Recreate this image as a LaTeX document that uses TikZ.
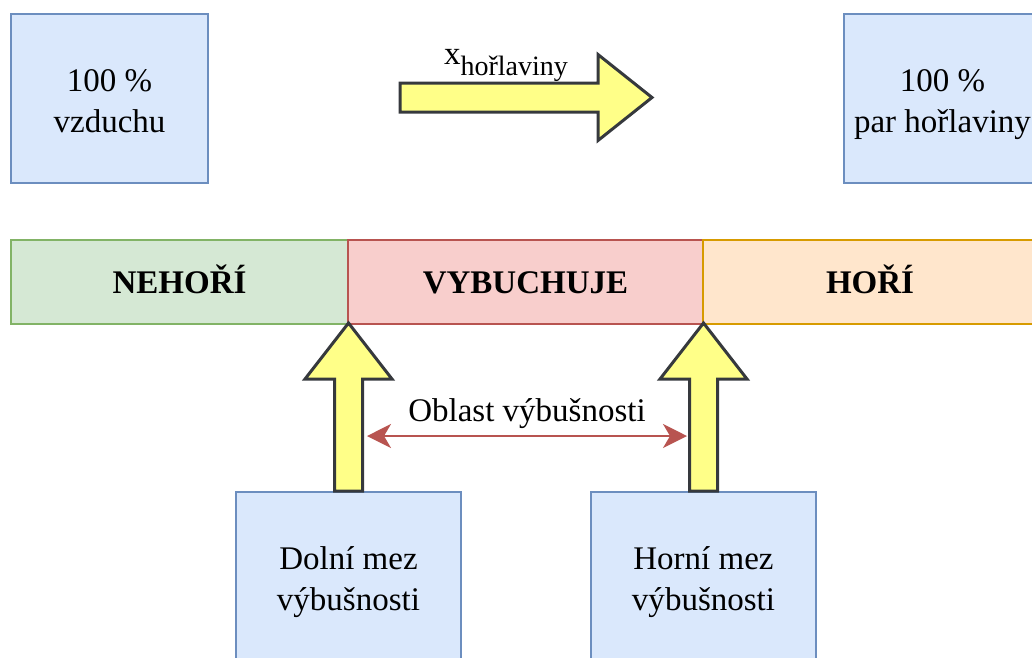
\documentclass[tikz,border=0pt]{standalone}
\usepackage{fontspec}
\setmainfont{Liberation Serif}
\usetikzlibrary{arrows.meta}

\definecolor{boxfill}{HTML}{DAE8FC}
\definecolor{boxline}{HTML}{6C8EBF}
\definecolor{greenfill}{HTML}{D5E8D4}
\definecolor{greenline}{HTML}{82B366}
\definecolor{redfill}{HTML}{F8CECC}
\definecolor{redline}{HTML}{B85450}
\definecolor{orangefill}{HTML}{FFE6CC}
\definecolor{orangeline}{HTML}{D79B00}
\definecolor{arrowfill}{HTML}{FFFF88}
\definecolor{arrowline}{HTML}{36393D}

% two lines of a box, pushed a bit down
\newcommand{\twolines}[2]{\rule{0pt}{39pt}#1\\#2\strut}

\tikzset{
	txt/.style={font=\fontsize{33}{41}\selectfont, align=center},
	box/.style={txt, draw=boxline, fill=boxfill, line width=2pt, minimum width=197pt, minimum height=169pt, inner sep=0pt},
	band/.style={txt, font=\fontsize{33}{40}\selectfont\bfseries, line width=2pt, minimum height=84pt, inner sep=0pt, text height=23pt, text depth=0pt},
	blockarrow/.style={draw=arrowline, fill=arrowfill, line width=3pt, line join=miter},
	rangearrow/.style={draw=redline, line width=2pt, {Stealth[length=24pt, width=24pt, inset=7pt]}-{Stealth[length=24pt, width=24pt, inset=7pt]}},
}

\begin{document}
\begin{tikzpicture}[x=1pt, y=-1pt]
	\useasboundingbox (0,0) rectangle (1032,657);
	\clip (0,0) rectangle (1032,657);
	
	% boxes at the top
	\node[box] (air) at (109.5,98.5) {\twolines{100 \%}{vzduchu}};
	\node[box] (fuel) at (942.5,98.5) {\twolines{100 \%}{par hořlaviny}};
	
	% arrow x
	\coordinate (xstart) at (400,97.5);
	\draw[blockarrow] (xstart) ++(0,-14.5) -- ++(198,0) -- ++(0,-28.5) -- ++(54,43) -- ++(-54,43) -- ++(0,-28.5) -- ++(-198,0) -- cycle;
	\node[txt] (xlabel) at (506,65) {x\raisebox{-11pt}{\fontsize{28}{32}\selectfont hořlaviny}};
	
	% bands
	\node[band, draw=greenline, fill=greenfill, minimum width=337pt] (nehori) at (179.5,282) {NEHOŘÍ};
	\node[band, draw=redline, fill=redfill, minimum width=355pt] (vybuchuje) at (525.5,282) {VYBUCHUJE};
	\node[band, draw=orangeline, fill=orangefill, minimum width=334pt] (hori) at (870,282) {HOŘÍ};
	
	% limits
	\node[box, minimum width=225pt] (dolni) at (348.5,576.5) {\twolines{Dolní mez}{výbušnosti}};
	\node[box, minimum width=225pt] (horni) at (703.5,576.5) {\twolines{Horní mez}{výbušnosti}};
	
	\draw[blockarrow] ([xshift=-14pt]dolni.north) -- ++(0,-112) -- ++(-29.5,0) -- ++(43.5,-56) -- ++(43.5,56) -- ++(-29.5,0) -- ++(0,112) -- cycle;
	\draw[blockarrow] ([xshift=-14pt]horni.north) -- ++(0,-112) -- ++(-29.5,0) -- ++(43.5,-56) -- ++(43.5,56) -- ++(-29.5,0) -- ++(0,112) -- cycle;
	
	% range
	\coordinate (lo) at (367,436);
	\coordinate (hi) at (687,436);
	\draw[rangearrow] (lo) -- (hi);
	\node[txt] (oblast) at (527,414) {Oblast výbušnosti};
\end{tikzpicture}
\end{document}
